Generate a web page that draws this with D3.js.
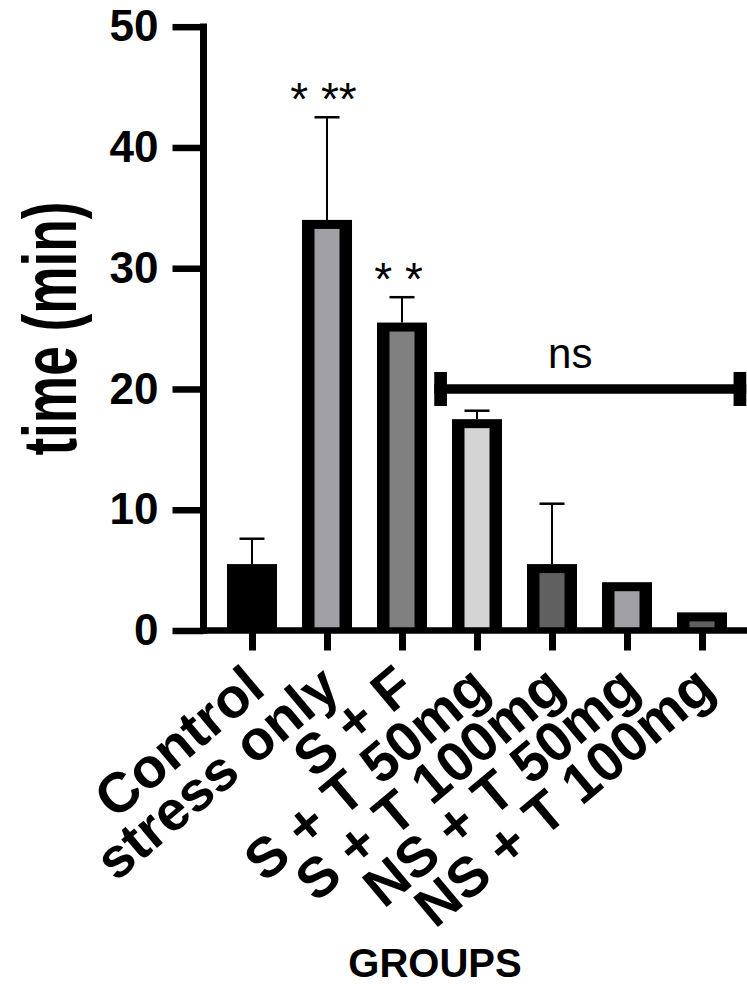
<!DOCTYPE html>
<html>
<head>
<meta charset="utf-8">
<script src="https://cdn.jsdelivr.net/npm/d3@7"></script>
<style>
  html, body { margin: 0; padding: 0; background: #fff; }
  svg { display: block; }
  text { font-family: "Liberation Sans", Arial, sans-serif; }
</style>
</head>
<body>
<svg id="chart" width="747" height="984"></svg>
<script>
// ---- data ----
const categories = ["Control", "stress only", "S + F", "S + T 50mg", "S + T 100mg", "NS + T 50mg", "NS + T 100mg"];
const means = [5.5, 34.0, 25.5, 17.5, 5.5, 4.0, 1.5];
const errors = [2.1, 8.5, 2.1, 0.7, 5.0, 0, 0];
const fills = ["#000000", "#a0a0a4", "#808080", "#d4d4d4", "#606060", "#a0a0a4", "#606060"];
const yTicks = [0, 10, 20, 30, 40, 50];
const stars = [{ cat: "stress only", label: "* **" }, { cat: "S + F", label: "* *" }];
const bracket = { from: "S + T 50mg", to: "NS + T 100mg", value: 20, label: "ns" };
const yTitle = "time (min)";
const xTitle = "GROUPS";

// ---- scales ----
const svg = d3.select("#chart");
const y = d3.scaleLinear().domain([0, 50]).range([630.5, 26.7]);
const x = d3.scalePoint().domain(categories).range([204, 750]).padding(0.64);
const step = x.step();
const barW = step * 0.667;
const insetX = 12.5, insetY = 9;

// ---- error bars (behind bars) ----
const data = categories.map((c, i) => ({ c, m: means[i], e: errors[i], f: fills[i] }));
const eb = svg.append("g");
data.filter(d => d.e > 0).forEach(d => {
  eb.append("line").attr("x1", x(d.c)).attr("x2", x(d.c))
    .attr("y1", y(d.m)).attr("y2", y(d.m + d.e))
    .attr("stroke", "#000").attr("stroke-width", 2);
  eb.append("line").attr("x1", x(d.c) - 12.5).attr("x2", x(d.c) + 12.5)
    .attr("y1", y(d.m + d.e)).attr("y2", y(d.m + d.e))
    .attr("stroke", "#000").attr("stroke-width", 2.5);
});

// ---- bars ----
const bars = svg.append("g");
bars.selectAll("rect.outer").data(data).join("rect")
  .attr("class", "outer")
  .attr("x", d => x(d.c) - barW / 2).attr("width", barW)
  .attr("y", d => y(d.m)).attr("height", d => y(0) - y(d.m))
  .attr("fill", "#000");
bars.selectAll("rect.inner").data(data).join("rect")
  .attr("class", "inner")
  .attr("x", d => x(d.c) - barW / 2 + insetX).attr("width", barW - 2 * insetX)
  .attr("y", d => y(d.m) + insetY).attr("height", d => Math.max(0, y(0) - y(d.m) - insetY))
  .attr("fill", d => d.f);

// ---- y axis ----
const yAxis = svg.append("g").attr("transform", "translate(203.5,0)")
  .call(d3.axisLeft(y).tickValues(yTicks).tickSize(31).tickPadding(14).tickFormat(d3.format("d")));
yAxis.select(".domain").attr("d", `M0,${y(50) - 3.2}V${y(0) + 3.2}`).attr("stroke", "#000").attr("stroke-width", 7);
yAxis.selectAll(".tick line").attr("stroke", "#000").attr("stroke-width", 6.5);
yAxis.selectAll(".tick text").attr("font-size", 44).attr("font-weight", "bold").attr("fill", "#000")
  .attr("font-family", "'Liberation Sans', Arial, sans-serif");

// ---- x axis ----
const xAxis = svg.append("g").attr("transform", `translate(0,${y(0)})`)
  .call(d3.axisBottom(x).tickSize(20).tickPadding(0));
xAxis.select(".domain").attr("d", "M200,0H747").attr("stroke", "#000").attr("stroke-width", 6.5);
xAxis.selectAll(".tick line").attr("stroke", "#000").attr("stroke-width", 7);
xAxis.selectAll(".tick text")
  .attr("font-size", 56).attr("font-weight", "bold").attr("fill", "#000")
  .attr("font-family", "'Liberation Sans', Arial, sans-serif")
  .attr("text-anchor", "end")
  .attr("dy", 0)
  .attr("transform", "translate(15,62) rotate(-40)")
  .attr("y", 0);

// ---- stars ----
stars.forEach(s => {
  const i = categories.indexOf(s.cat);
  svg.append("text").attr("x", x(s.cat) - 3.5)
    .attr("y", y(means[i] + errors[i]) - 2)
    .attr("text-anchor", "middle").attr("font-size", 46).text(s.label);
});

// ---- bracket ----
const bx1 = x(bracket.from) - 0.57 * step, bx2 = x(bracket.to) + 0.59 * step;
const by = y(bracket.value);
svg.append("line").attr("x1", bx1).attr("x2", bx2).attr("y1", by).attr("y2", by)
  .attr("stroke", "#000").attr("stroke-width", 9.5);
[bx1, bx2].forEach(bx => {
  svg.append("rect").attr("x", bx < 600 ? bx : bx - 12.7).attr("width", 12.7)
    .attr("y", by - 17).attr("height", 34).attr("fill", "#000");
});
svg.append("text").attr("x", (bx1 + bx2) / 2 - 20).attr("y", by - 21)
  .attr("text-anchor", "middle").attr("font-size", 42).text(bracket.label);

// ---- titles ----
svg.append("text").attr("transform", `translate(76,${(y(0) + y(50)) / 2}) rotate(-90)`)
  .attr("text-anchor", "middle").attr("font-size", 76).attr("font-weight", "bold")
  .attr("textLength", 254).attr("lengthAdjust", "spacingAndGlyphs").text(yTitle);
svg.append("text").attr("x", 435).attr("y", 977)
  .attr("text-anchor", "middle").attr("font-size", 40).attr("font-weight", "bold").text(xTitle);
</script>
</body>
</html>
